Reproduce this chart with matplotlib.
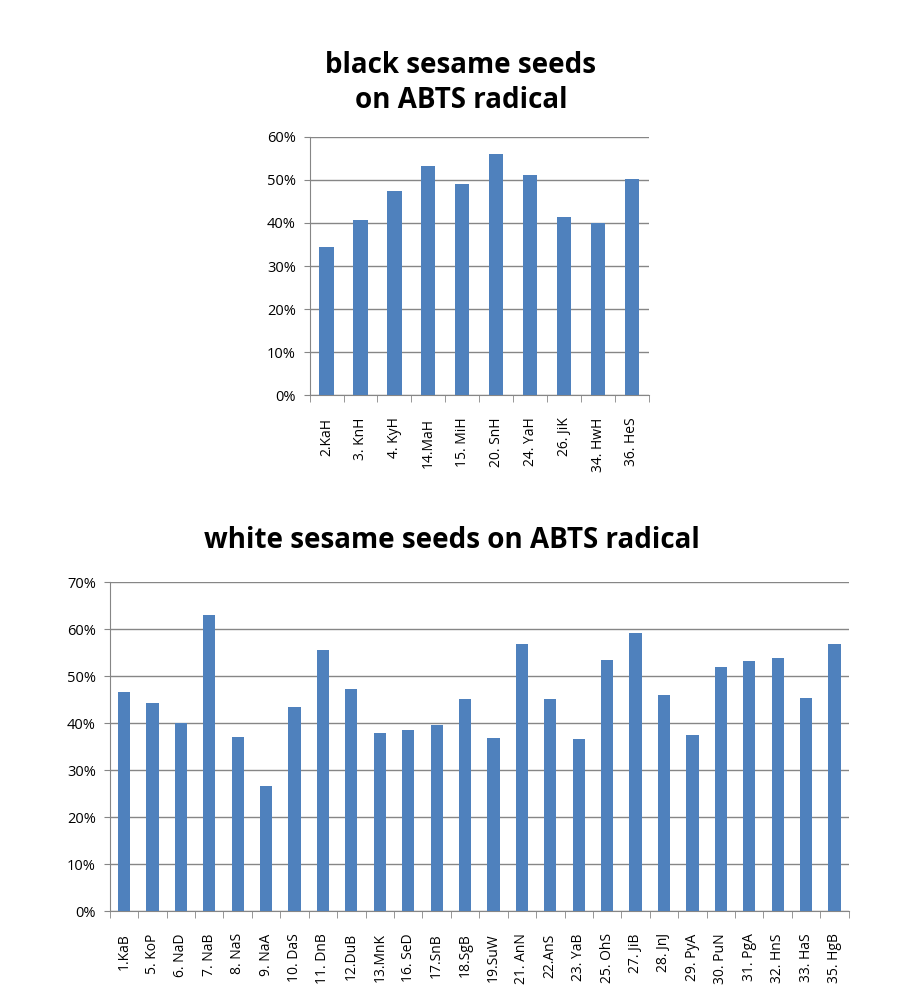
import matplotlib
matplotlib.use("Agg")
import matplotlib.pyplot as plt
from matplotlib.ticker import FuncFormatter, FixedLocator

plt.rcParams['font.family'] = ['Open Sans', 'DejaVu Sans']

# black sesame seeds
black_labels = ["2.KaH", "3. KnH", "4. KyH", "14.MaH", "15. MiH", "20. SnH",
                "24. YaH", "26. JiK", "34. HwH", "36. HeS"]
black_vals = [34.5, 40.6, 47.5, 53.2, 49.1, 55.9, 51.1, 41.5, 39.9, 50.2]

# white sesame seeds
white_labels = ["1.KaB", "5. KoP", "6. NaD", "7. NaB", "8. NaS", "9. NaA", "10. DaS",
                "11. DnB", "12.DuB", "13.MnK", "16. SeD", "17.SnB", "18.SgB", "19.SuW",
                "21. AnN", "22.AnS", "23. YaB", "25. OhS", "27. JiB", "28. JnJ",
                "29. PyA", "30. PuN", "31. PgA", "32. HnS", "33. HaS", "35. HgB"]
white_vals = [46.6, 44.2, 40.0, 63.0, 37.1, 26.7, 43.5, 55.5, 47.3, 37.8, 38.6, 39.5,
              45.2, 36.8, 56.8, 45.2, 36.6, 53.5, 59.2, 46.0, 37.5, 52.0, 53.3, 53.8,
              45.4, 56.8]

bar_col = '#4F81BD'
grid_col = '#868686'

fig = plt.figure(figsize=(9, 10.06), dpi=100)


def style(ax, labels, vals, ymax, barw):
    n = len(vals)
    x = list(range(n))
    ax.bar(x, vals, width=barw, color=bar_col, zorder=3)
    ax.set_xlim(-0.5, n - 0.5)
    ax.set_ylim(0, ymax)
    ax.set_yticks(range(0, ymax + 1, 10))
    ax.yaxis.set_major_formatter(FuncFormatter(lambda v, p: '%d%%' % v))
    ax.grid(axis='y', color=grid_col, linewidth=1, zorder=0)
    ax.set_xticks(x)
    ax.set_xticklabels(labels, rotation=90, fontsize=10)
    ax.tick_params(axis='x', which='major', length=0, pad=16)
    ax.xaxis.set_minor_locator(FixedLocator([i - 0.5 for i in range(n + 1)]))
    ax.tick_params(axis='x', which='minor', length=5, color=grid_col)
    ax.tick_params(axis='y', length=4, color=grid_col, labelsize=10.5, pad=6)
    for s in ['top', 'right']:
        ax.spines[s].set_visible(False)
    for s in ['left', 'bottom']:
        ax.spines[s].set_color(grid_col)


ax1 = fig.add_axes([0.344, 0.607, 0.377, 0.257])
style(ax1, black_labels, black_vals, 60, 0.42)
fig.text(0.512, 0.9175, 'black sesame seeds\non ABTS radical', ha='center', va='center',
         fontsize=20, fontweight='bold', linespacing=1.3)

ax2 = fig.add_axes([0.122, 0.0944, 0.821, 0.327])
style(ax2, white_labels, white_vals, 70, 0.43)
fig.text(0.502, 0.463, 'white sesame seeds on ABTS radical', ha='center', va='center',
         fontsize=20, fontweight='bold')

fig.savefig('out.png', dpi=100)
